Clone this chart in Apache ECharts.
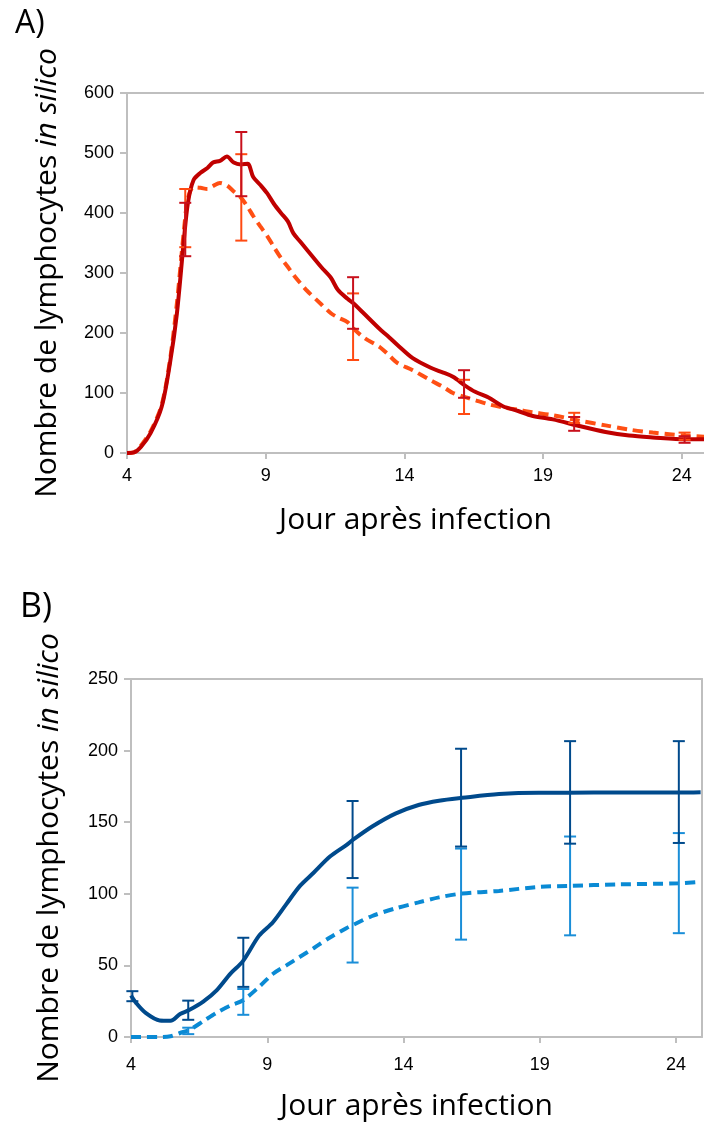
<!DOCTYPE html>
<html>
<head>
<meta charset="utf-8">
<script src="https://cdn.jsdelivr.net/npm/echarts@6/dist/echarts.min.js"></script>
<style>
  html, body { margin: 0; padding: 0; background: #fff; }
  #chart { width: 704px; height: 1122px; }
</style>
</head>
<body>
<div id="chart"></div>
<script>
// A) jours et valeurs
const dayA = [4, 4.25, 4.5, 4.85, 5.25, 5.55, 5.8, 6.05, 6.2, 6.4, 6.65, 6.9, 7.1, 7.35, 7.6, 7.85,
  8.1, 8.35, 8.55, 8.8, 9.05, 9.3, 9.55, 9.8, 10.0, 10.25, 10.5, 11.0, 11.35, 11.6, 11.95, 12.15,
  12.55, 13.1, 13.4, 13.75, 14.3, 14.95, 15.4, 15.75, 16.2, 16.55, 17.05, 17.55, 18.1, 18.6,
  19.35, 20.3, 21.25, 22.1, 22.95, 24.15, 24.8];
const solidA = [0, 1, 10, 33, 77, 150, 233, 355, 418, 455, 467, 475, 484, 487, 494, 484,
  481, 482, 460, 447, 433, 415, 400, 386, 366, 352, 338, 310, 292, 272, 257, 250,
  232, 207, 195, 180, 158, 142, 134, 127, 112, 102, 92, 78, 70, 62,
  56, 45, 35, 29, 26, 23, 23];
const dashedA = [0, 1, 12, 36, 80, 155, 250, 370, 425, 443, 442, 440, 445, 450, 446, 436,
  426, 410, 395, 378, 362, 343, 325, 310, 297, 283, 270, 248, 233, 226, 218, 208,
  192, 177, 165, 150, 138, 121, 110, 100, 93, 88, 81, 76, 72, 68,
  63, 54, 46, 39, 34, 29, 27];
// barres d'erreur A : [jour, bas, haut]
const errSolidA = [[6.1, 328, 417], [8.12, 428, 535], [12.15, 207, 293], [16.15, 92, 138], [20.12, 37, 60], [24.1, 17, 28]];
const errDashedA = [[6.1, 343, 440], [8.12, 354, 498], [12.15, 155, 266], [16.15, 65, 122], [20.12, 50, 67], [24.1, 22, 34]];

// B)
const dayB = [4.0, 4.2, 4.55, 5.05, 5.45, 5.8, 6.15, 6.65, 7.15, 7.65, 8.1, 8.7, 9.2, 9.7, 10.2,
  10.7, 11.3, 11.9, 12.15, 12.85, 13.7, 14.55, 15.3, 16.15, 17.5, 18.95, 20.05, 21.9, 24.1, 24.9];
const solidB = [29, 23.5, 16.6, 11.5, 11.3, 16, 19, 24.7, 32.8, 44.3, 52.8, 70.8, 80, 92.8, 105.5,
  114.7, 126, 134, 137.8, 147, 156, 162, 165, 167, 169.7, 170.6, 170.6, 170.8, 170.8, 171];
const dashedB = [0, 0, 0, 0, 0.5, 2.8, 5, 11, 17, 22, 25.5, 35, 44, 50, 56,
  62, 69.5, 76, 78.3, 84.5, 89.8, 94, 97.5, 100.2, 102, 104.8, 105.5, 106.6, 107.3, 108.3];
const errSolidB = [[4.05, 25, 32], [6.1, 12, 25.4], [8.12, 35, 69.3], [12.13, 111, 164.8], [16.11, 133, 201.3], [20.11, 135, 206.6], [24.1, 135.5, 206.6]];
const errDashedB = [[6.1, 2, 6.5], [8.12, 15.5, 33.5], [12.13, 52, 104.3], [16.11, 68, 131.6], [20.11, 71, 140], [24.1, 72.5, 142.4]];

const xTicks = [4, 9, 14, 19, 24];

const titleFont = "'Open Sans', 'Noto Sans', sans-serif";
const tickFont = "'Liberation Sans', Arial, sans-serif";
const axisGray = "#BFBFBF";

const chart = echarts.init(document.getElementById("chart"), null, { renderer: "canvas" });

function pairs(xs, ys) {
  return xs.map((x, i) => [x, ys[i]]);
}

// barre verticale + deux chapeaux
function errorBar(params, api) {
  const x = api.value(0);
  const lo = api.coord([x, api.value(1)]);
  const hi = api.coord([x, api.value(2)]);
  const w = 6;
  const style = { stroke: api.visual("color"), lineWidth: 2 };
  return {
    type: "group",
    children: [
      { type: "line", shape: { x1: lo[0], y1: lo[1], x2: hi[0], y2: hi[1] }, style },
      { type: "line", shape: { x1: lo[0] - w, y1: lo[1], x2: lo[0] + w, y2: lo[1] }, style },
      { type: "line", shape: { x1: hi[0] - w, y1: hi[1], x2: hi[0] + w, y2: hi[1] }, style },
    ],
  };
}

function bottomAxis(grid, max, gap, margin) {
  return {
    type: "value", gridIndex: grid, position: "bottom",
    min: 4, max: max, interval: 5,
    name: "Jour après infection", nameLocation: "middle", nameGap: gap,
    nameTextStyle: { fontFamily: titleFont, fontSize: 30, color: "#000" },
    axisLine: { show: true, onZero: false, lineStyle: { color: axisGray, width: 2 } },
    axisTick: { show: true, length: 6, lineStyle: { color: axisGray, width: 2 } },
    axisLabel: {
      margin: margin, fontFamily: tickFont, fontSize: 18, color: "#000",
      showMaxLabel: false,
      formatter: (v) => (xTicks.indexOf(v) >= 0 ? String(v) : ""),
    },
    splitLine: { show: false },
  };
}

function borderAxis(type, grid, position, min, max) {
  return {
    type: "value", gridIndex: grid, position: position, min: min, max: max,
    axisLine: { show: true, onZero: false, lineStyle: { color: axisGray, width: 2 } },
    axisTick: { show: false }, axisLabel: { show: false }, splitLine: { show: false },
  };
}

function leftAxis(grid, max, interval, gap) {
  return {
    type: "value", gridIndex: grid, position: "left",
    min: 0, max: max, interval: interval,
    name: "Nombre de lymphocytes {it|in silico}", nameLocation: "middle", nameGap: gap, nameRotate: 90,
    nameTextStyle: {
      fontFamily: titleFont, fontSize: 30, color: "#000",
      rich: { it: { fontFamily: titleFont, fontSize: 30, fontStyle: "italic", color: "#000" } },
    },
    axisLine: { show: true, lineStyle: { color: axisGray, width: 2 } },
    axisTick: { show: true, length: 7, lineStyle: { color: axisGray, width: 2 } },
    axisLabel: { margin: 13, fontFamily: tickFont, fontSize: 18, color: "#000" },
    splitLine: { show: false },
  };
}

function curve(name, xs, ys, color, dashed, xi, yi) {
  return {
    name: name, type: "line", xAxisIndex: xi, yAxisIndex: yi,
    data: pairs(xs, ys), symbol: "none", smooth: 0.3,
    lineStyle: { color: color, width: 4, type: dashed ? [10, 6] : "solid" },
    z: 2,
  };
}

function bars(name, data, color, xi, yi) {
  return {
    name: name, type: "custom", xAxisIndex: xi, yAxisIndex: yi,
    renderItem: errorBar, data: data, itemStyle: { color: color },
    encode: { x: 0, y: [1, 2] }, z: 3,
  };
}

chart.setOption({
  animation: false,
  title: [
    { text: "A)", left: 10, top: 3, textStyle: { fontFamily: titleFont, fontSize: 32, fontWeight: "normal", color: "#000" } },
    { text: "B)", left: 15, top: 585, textStyle: { fontFamily: titleFont, fontSize: 34, fontWeight: "normal", color: "#000" } },
  ],
  grid: [
    { left: 127, right: 0, top: 93, height: 360 },
    { left: 131, right: 2, top: 679, height: 360 },
  ],
  xAxis: [
    bottomAxis(0, 24.8, 52, 14),
    borderAxis("x", 0, "top", 4, 24.8),
    bottomAxis(1, 24.95, 54, 19),
    borderAxis("x", 1, "top", 4, 24.95),
  ],
  yAxis: [
    leftAxis(0, 600, 100, 65),
    leftAxis(1, 250, 50, 67),
    borderAxis("y", 1, "right", 0, 250),
  ],
  series: [
    curve("A dashed", dayA, dashedA, "#FF4F14", true, 0, 0),
    curve("A solid", dayA, solidA, "#C00000", false, 0, 0),
    bars("A dashed err", errDashedA, "#FF4A12", 0, 0),
    bars("A solid err", errSolidA, "#C8101C", 0, 0),
    curve("B dashed", dayB, dashedB, "#0A8AD4", true, 2, 1),
    curve("B solid", dayB, solidB, "#004A8C", false, 2, 1),
    bars("B dashed err", errDashedB, "#1A8ED8", 2, 1),
    bars("B solid err", errSolidB, "#004A8C", 2, 1),
  ],
});
</script>
</body>
</html>
